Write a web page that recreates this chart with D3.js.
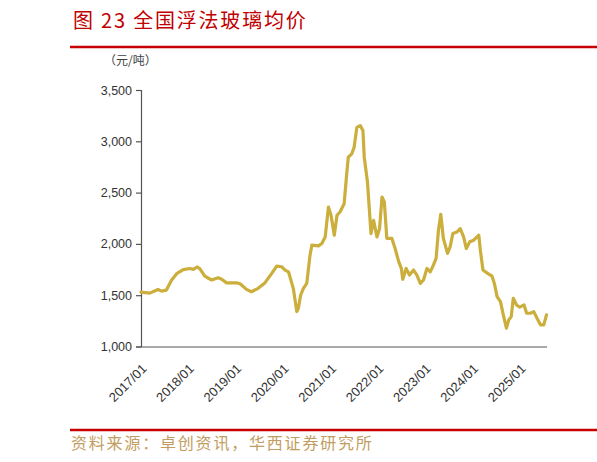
<!DOCTYPE html>
<html>
<head>
<meta charset="utf-8">
<script src="https://cdn.jsdelivr.net/npm/d3@7/dist/d3.min.js"></script>
<style>
  html, body { margin: 0; padding: 0; background: #fff; }
  svg { display: block; }
</style>
</head>
<body>
<svg id="chart" width="597" height="462"></svg>
<script>
// ---- Data ----
const titleText = "图 23 全国浮法玻璃均价";
const unitText = "（元/吨）";
const sourceText = "资料来源：卓创资讯，华西证券研究所";

const dates = [
  "2017-01-01","2017-03-09","2017-05-12","2017-06-08","2017-07-16","2017-08-24","2017-10-03","2017-11-23",
  "2018-01-14","2018-02-09","2018-03-09","2018-03-30","2018-05-08","2018-06-29","2018-08-19","2018-09-15","2018-10-23",
  "2019-01-09","2019-02-04","2019-03-25","2019-05-03","2019-06-23","2019-08-14","2019-10-06","2019-11-13","2019-12-21",
  "2020-01-17","2020-02-12","2020-03-20","2020-04-16","2020-04-28","2020-05-16","2020-06-06","2020-07-02","2020-07-27",
  "2020-08-10","2020-09-30","2020-10-26","2020-11-21","2020-12-16",
  "2021-01-05","2021-01-30","2021-02-20","2021-03-15","2021-04-16","2021-05-06","2021-05-18","2021-06-14","2021-07-02",
  "2021-07-23","2021-08-18","2021-09-08","2021-09-18","2021-10-13","2021-11-09","2021-11-29","2021-12-25",
  "2022-01-14","2022-02-02","2022-02-20","2022-03-11","2022-04-19","2022-05-14","2022-06-10","2022-07-01","2022-07-12",
  "2022-08-07","2022-09-02","2022-10-03","2022-10-29","2022-11-24","2022-12-19",
  "2023-01-14","2023-02-09","2023-03-05","2023-03-26","2023-04-13","2023-05-01","2023-05-21","2023-06-22","2023-07-12",
  "2023-08-02","2023-09-03","2023-09-28","2023-10-24","2023-11-14","2023-12-10",
  "2024-01-10","2024-02-18","2024-03-01","2024-03-21","2024-04-26","2024-05-30","2024-06-17","2024-07-08","2024-08-03",
  "2024-08-28","2024-09-18","2024-10-06","2024-10-25","2024-11-10","2024-12-05","2024-12-30",
  "2025-02-01","2025-02-21","2025-03-22","2025-04-17","2025-05-12","2025-06-08","2025-07-03","2025-07-24"
];
const prices = [
  1530,1520,1555,1540,1550,1645,1710,1750,
  1760,1752,1775,1760,1685,1648,1670,1655,1620,
  1620,1612,1557,1534,1567,1620,1713,1784,1777,
  1745,1728,1567,1340,1373,1502,1567,1615,1890,
  1988,1981,2004,2068,2359,
  2279,2085,2279,2311,2392,2684,2845,2878,2942,
  3136,3153,3104,2845,2602,2101,2230,2068,
  2149,2457,2408,2053,2053,1955,1830,1761,1654,
  1761,1696,1745,1696,1615,1648,
  1761,1728,1793,1858,2133,2289,2053,1907,1971,
  2101,2117,2149,2068,1955,2020,
  2036,2085,1939,1745,1713,1686,1615,1486,1437,
  1291,1179,1259,1291,1470,1405,1383,
  1405,1324,1324,1340,1276,1211,1211,1308
];
const yTicks = [1000, 1500, 2000, 2500, 3000, 3500];
const xTickLabels = ["2017/01","2018/01","2019/01","2020/01","2021/01","2022/01","2023/01","2024/01","2025/01"];

// ---- Drawing ----
const parse = d3.timeParse("%Y-%m-%d");
const parseTick = d3.timeParse("%Y/%m");
const data = dates.map((d, i) => ({ date: parse(d), value: prices[i] }));

const svg = d3.select("#chart");
const W = 597, H = 462;

// Title
svg.append("text")
  .attr("x", 73).attr("y", 28)
  .attr("fill", "#C00000")
  .attr("font-family", "'Noto Sans CJK SC', sans-serif")
  .attr("font-size", 20)
  .attr("letter-spacing", 1.8)
  .text(titleText);

// Top red rule
svg.append("line")
  .attr("x1", 70).attr("x2", W).attr("y1", 47).attr("y2", 47)
  .attr("stroke", "#C80000").attr("stroke-width", 2.5);

// Unit label
svg.append("text")
  .attr("x", 104).attr("y", 65)
  .attr("fill", "#404040")
  .attr("font-family", "'Noto Sans CJK SC', sans-serif")
  .attr("font-size", 12)
  .text(unitText);

const x = d3.scaleTime()
  .domain([parse("2017-01-01"), parse("2025-07-24")])
  .range([141, 546.5]);
const y = d3.scaleLinear()
  .domain([1000, 3500])
  .range([346.5, 90]);

// Y axis
const yAxis = svg.append("g")
  .attr("transform", "translate(141,0)")
  .call(d3.axisLeft(y).tickValues(yTicks).tickSize(5).tickPadding(4).tickFormat(d3.format(",")));
yAxis.select(".domain").attr("stroke", "#555").attr("stroke-width", 1.2);
yAxis.selectAll(".tick line").attr("stroke", "#555").attr("stroke-width", 1.2);
yAxis.selectAll(".tick text")
  .attr("fill", "#333")
  .attr("font-family", "'Liberation Sans', Arial, sans-serif")
  .attr("font-size", 12.5);

// X axis
const tickDates = xTickLabels.map(s => parseTick(s));
const xAxis = svg.append("g")
  .attr("transform", "translate(0,346.5)")
  .call(d3.axisBottom(x).tickValues(tickDates).tickSize(0).tickPadding(0)
    .tickFormat((d, i) => xTickLabels[i]));
xAxis.select(".domain").attr("stroke", "#555").attr("stroke-width", 1.2);
xAxis.selectAll(".tick text")
  .attr("fill", "#333")
  .attr("font-family", "'Liberation Sans', Arial, sans-serif")
  .attr("font-size", 13)
  .attr("text-anchor", "end")
  .attr("dy", null)
  .attr("y", 0)
  .attr("transform", "translate(6,23) rotate(-45)");

// Line
const line = d3.line()
  .x(d => x(d.date))
  .y(d => y(d.value))
  .curve(d3.curveLinear);
svg.append("path")
  .datum(data)
  .attr("fill", "none")
  .attr("stroke", "#CBAE3B")
  .attr("stroke-width", 3.2)
  .attr("stroke-linejoin", "round")
  .attr("stroke-linecap", "round")
  .attr("d", line);

// Bottom red rule
svg.append("line")
  .attr("x1", 70).attr("x2", W).attr("y1", 430).attr("y2", 430)
  .attr("stroke", "#C80000").attr("stroke-width", 2.5);

// Source
svg.append("text")
  .attr("x", 71).attr("y", 449)
  .attr("fill", "#C29D62")
  .attr("font-family", "'Noto Sans CJK SC', sans-serif")
  .attr("font-size", 16)
  .attr("letter-spacing", 1.8)
  .text(sourceText);
</script>
</body>
</html>
